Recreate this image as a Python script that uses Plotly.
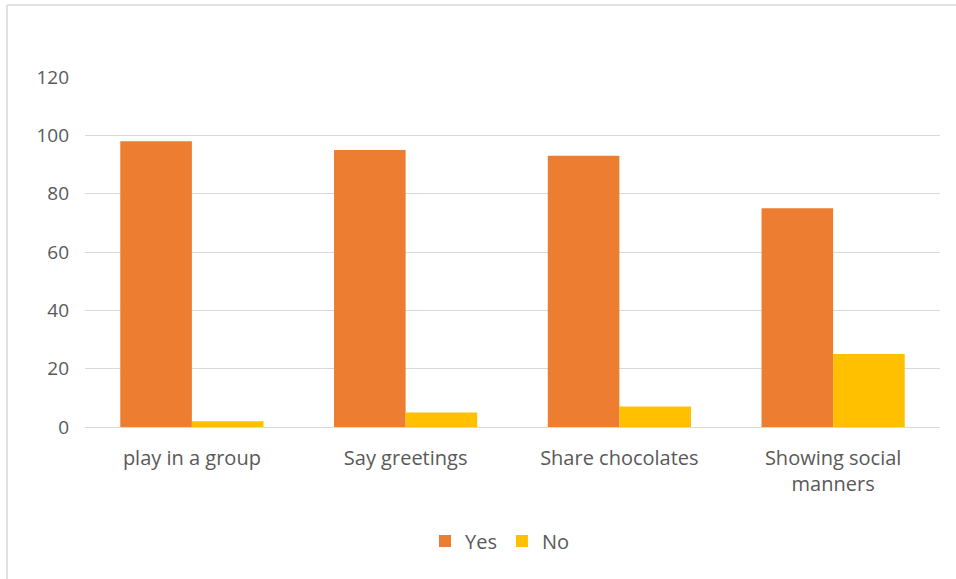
import plotly.graph_objects as go

categories = ["play in a group", "Say greetings", "Share chocolates", "Showing social<br>manners"]
yes_values = [98, 95, 93, 75]
no_values = [2, 5, 7, 25]
y_ticks = [0, 20, 40, 60, 80, 100, 120]

W, H = 956, 579
L, R, T, B = 85, 16, 77, 152
pw, ph = W - L - R, H - T - B

def px(x):
    return (x - L) / pw

def py(y):
    return (H - B - y) / ph

xfont = dict(family="Open Sans, sans-serif", size=20, color="#595959")
yfont = dict(family="Open Sans, sans-serif", size=19, color="#595959")

fig = go.Figure()
fig.add_trace(go.Bar(x=categories, y=yes_values, name="Yes", marker=dict(color="#ED7D31", line=dict(width=0))))
fig.add_trace(go.Bar(x=categories, y=no_values, name="No", marker=dict(color="#FFC000", line=dict(width=0))))

fig.update_layout(
    width=W, height=H,
    margin=dict(l=L, r=R, t=T, b=B),
    paper_bgcolor="white", plot_bgcolor="white",
    barmode="group", bargap=0.33, bargroupgap=0,
    font=xfont,
    showlegend=True,
    legend=dict(orientation="h", x=px(500), y=py(541), xanchor="center", yanchor="middle",
                font=dict(family="Open Sans, sans-serif", size=20, color="#595959"),
                itemsizing="constant", traceorder="normal"),
    xaxis=dict(showgrid=False, showline=True, linecolor="#D9D9D9", linewidth=1,
               ticks="", tickfont=xfont, ticklabelstandoff=13, fixedrange=True),
    yaxis=dict(range=[0, 120], tickvals=y_ticks, showgrid=True, gridcolor="#D9D9D9", gridwidth=1,
               zeroline=False, showline=False, ticks="", tickfont=yfont, ticklabelstandoff=15),
    shapes=[
        dict(type="line", xref="paper", yref="paper", x0=px(7), x1=px(W), y0=py(5), y1=py(5),
             line=dict(color="#D9D9D9", width=1.5)),
        dict(type="line", xref="paper", yref="paper", x0=px(7), x1=px(7), y0=py(5), y1=py(H),
             line=dict(color="#D9D9D9", width=1.5)),
    ],
)

fig.write_html("out.html")
